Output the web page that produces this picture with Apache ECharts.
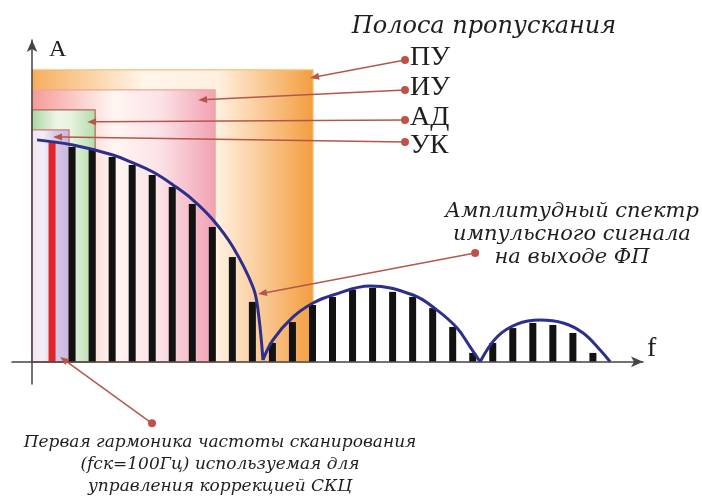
<!DOCTYPE html>
<html lang="ru">
<head>
  <meta charset="UTF-8">
  <title>Полоса пропускания</title>
  <style>
    html, body, #main {
      margin: 0;
      padding: 0;
      background: #fff;
    }
    #main {
      width: 702px;
      height: 499px;
    }
  </style>
</head>
<body>
  <div id="main"></div>
  <script src="https://cdn.jsdelivr.net/npm/echarts@6/dist/echarts.min.js"></script>
  <script>
    // номера гармоник и их амплитуды (A = 1 у первой)
    const harmonics = [1, 2, 3, 4, 5, 6, 7, 8, 9, 10, 11, 12, 13, 14,
      15, 16, 17, 18, 19, 20, 21, 22, 23, 24, 25, 26, 27, 28];
    const amplitudes = [0.99, 0.968, 0.955, 0.923, 0.887, 0.842, 0.788, 0.711, 0.607, 0.472, 0.27, 0.085, 0.179, 0.256,
      0.292, 0.324, 0.333, 0.315, 0.292, 0.242, 0.157, 0.04, 0.085, 0.152, 0.175, 0.166, 0.13, 0.04];

    // огибающая спектра, три лепестка [n, A]
    const lobe1 = [[0.25, 1.0], [2.05, 0.977], [4.04, 0.932], [5.04, 0.896], [6.04, 0.855], [7.04, 0.797],
      [8.04, 0.729], [9.04, 0.639], [10.03, 0.517], [11.03, 0.337], [11.28, 0.233], [11.53, 0.008]];
    const lobe2 = [[11.53, 0.008], [12.03, 0.099], [13.03, 0.202], [14.03, 0.265], [15.03, 0.301], [16.87, 0.342],
      [19.02, 0.301], [20.22, 0.233], [21.22, 0.152], [21.87, 0.067], [22.37, 0]];
    const lobe3 = [[22.37, 0], [23.21, 0.112], [24.21, 0.17], [25.36, 0.188], [26.51, 0.175], [27.51, 0.13],
      [28.36, 0.053], [28.86, 0]];

    // полосы пропускания: правая граница (n) и верх (A)
    const bandNames = ['ПУ', 'ИУ', 'АД', 'УК'];
    const bandRight = [14.03, 9.14, 3.15, 1.85];
    const bandTop = [1.315, 1.225, 1.135, 1.045];

    // выноски: точка с подписью -> стрелка
    const calloutFrom = [[18.62, 1.36], [18.62, 1.225], [18.62, 1.09], [18.62, 0.99], [22.12, 0.49], [5.99, -0.277]];
    const calloutTo = [[13.88, 1.279], [8.29, 1.18], [2.75, 1.081], [1.05, 1.013], [11.28, 0.305], [1.4, 0.022]];

    const bandStyles = [
      { stops: ['#f6ad5c', '#fff5ea', '#fff0e0', '#f39d3e'], at: [0, 0.4, 0.66, 1], border: '#f2c27a' },
      { stops: ['#f59a98', '#fff6f2', '#fbe2e6', '#f2a0b2'], at: [0, 0.45, 0.7, 1], border: '#eea88e' },
      { stops: ['#a9d7a0', '#eef5e8', '#e8f3e0', '#b4dcab'], at: [0, 0.4, 0.6, 1], border: '#a86a60' },
      { stops: ['#f1e4ee', '#f4eef6', '#d8cbe8', '#c8b6e0'], at: [0, 0.3, 0.6, 1], border: '#cc7878' }
    ];

    const grad = (s) => new echarts.graphic.LinearGradient(0, 0, 1, 0,
      s.stops.map((c, i) => ({ offset: s.at[i], color: c })));

    const myChart = echarts.init(document.getElementById('main'));

    const option = {
      animation: false,
      grid: { left: 12, right: 59, top: 40, bottom: 115 },
      xAxis: {
        type: 'value',
        min: -1,
        max: 30.5,
        z: 5,
        axisLine: {
          onZero: true,
          symbol: ['none', 'arrow'],
          symbolSize: [8, 12],
          lineStyle: { color: '#444', width: 1.5 }
        },
        axisTick: { show: false },
        axisLabel: { show: false },
        splitLine: { show: false }
      },
      yAxis: {
        type: 'value',
        min: -0.1,
        max: 1.45,
        z: 5,
        axisLine: {
          show: true,
          onZero: true,
          symbol: ['none', 'arrow'],
          symbolSize: [8, 12],
          lineStyle: { color: '#444', width: 1.5 }
        },
        axisTick: { show: false },
        axisLabel: { show: false },
        splitLine: { show: false }
      },
      series: [
        {
          type: 'line',
          data: [],
          z: 1,
          markArea: {
            silent: true,
            data: bandNames.map((name, i) => [
              {
                name: name,
                xAxis: 0,
                yAxis: bandTop[i],
                itemStyle: { color: grad(bandStyles[i]), borderColor: bandStyles[i].border, borderWidth: 1.2 }
              },
              { xAxis: bandRight[i], yAxis: 0 }
            ]),
            label: { show: false }
          }
        },
        {
          name: 'гармоники',
          type: 'bar',
          barWidth: 7,
          z: 3,
          data: harmonics.map((n, i) => ({
            value: [n, amplitudes[i]],
            itemStyle: { color: n === 1 ? '#e1262b' : '#121212' }
          }))
        },
        ...[lobe1, lobe2, lobe3].map(lobe => ({
          type: 'line',
          data: lobe,
          z: 4,
          smooth: 0.4,
          symbol: 'none',
          lineStyle: { color: '#2d2f8e', width: 3 }
        }))
      ]
    };

    myChart.setOption(option);

    // выноски и подписи
    const lineColor = '#b4574b';
    const graphics = [];
    calloutFrom.forEach((p, i) => {
      const a = myChart.convertToPixel({ gridIndex: 0 }, p);
      const b = myChart.convertToPixel({ gridIndex: 0 }, calloutTo[i]);
      const dx = b[0] - a[0], dy = b[1] - a[1];
      const len = Math.sqrt(dx * dx + dy * dy);
      const ux = dx / len, uy = dy / len;
      const bx = b[0] - ux * 9, by = b[1] - uy * 9;
      graphics.push({
        type: 'line', z: 10,
        shape: { x1: a[0], y1: a[1], x2: bx, y2: by },
        style: { stroke: lineColor, lineWidth: 1.5 }
      });
      graphics.push({
        type: 'polygon', z: 10,
        shape: { points: [b, [bx - uy * 3.5, by + ux * 3.5], [bx + uy * 3.5, by - ux * 3.5]] },
        style: { fill: lineColor }
      });
      graphics.push({
        type: 'circle', z: 11,
        shape: { cx: a[0], cy: a[1], r: 4 },
        style: { fill: '#c0504a' }
      });
    });

    const serif = '"Liberation Serif", "DejaVu Serif", serif';
    const italic = '"DejaVu Serif", serif';
    const text = (str, x, y, size, align, ital) => ({
      type: 'text', z: 12, x: x, y: y,
      style: {
        text: str,
        fill: '#1e1e1e',
        font: (ital ? 'italic ' : '') + size + 'px ' + (ital ? italic : serif),
        align: align,
        verticalAlign: 'middle'
      }
    });

    graphics.push(text('Полоса пропускания', 484, 27, 24, 'center', true));
    bandNames.forEach((name, i) => {
      graphics.push(text(name, 410, [58, 88, 118, 146][i], 28, 'left', false));
    });
    graphics.push(text('A', 49, 50, 24, 'left', false));
    graphics.push(text('f', 647, 349, 28, 'left', false));
    ['Амплитудный спектр', 'импульсного сигнала', 'на выходе ФП'].forEach((s, i) => {
      graphics.push(text(s, 572, 212 + i * 23, 21, 'center', true));
    });
    ['Первая гармоника частоты сканирования', '(fск=100Гц) используемая для', 'управления коррекцией СКЦ'].forEach((s, i) => {
      graphics.push(text(s, 220, 443 + i * 22, 17, 'center', true));
    });

    myChart.setOption({ graphic: graphics });
  </script>
</body>
</html>
